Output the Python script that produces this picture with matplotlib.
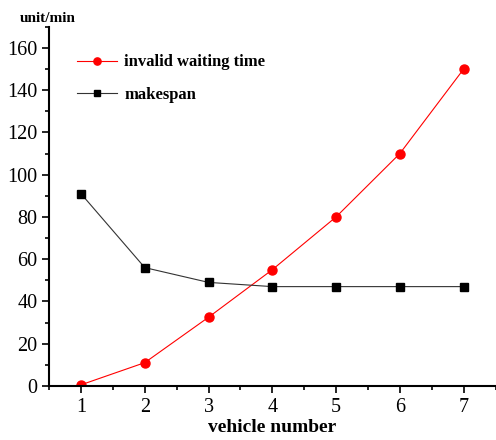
import matplotlib
matplotlib.use("Agg")
import matplotlib.pyplot as plt
from matplotlib.ticker import MultipleLocator

vehicles = [1, 2, 3, 4, 5, 6, 7]
waiting = [0.5, 11, 32.5, 55, 80, 110, 150]
makespan = [91, 56, 49, 47, 47, 47, 47]

plt.rcParams['font.family'] = ['Liberation Serif', 'DejaVu Serif']

fig = plt.figure(figsize=(4.96, 4.4), dpi=100)
ax = fig.add_axes([0.099, 0.123, 0.9, 0.816])

ax.plot(vehicles, waiting, color='red', lw=0.8, marker='o', ms=6.5,
        label='invalid waiting time')
ax.plot(vehicles, makespan, color='#333333', lw=0.8, marker='s', ms=6,
        mfc='black', mec='black', label='makespan')

ax.set_xlim(0.5, 7.5)
ax.set_ylim(0, 170)
ax.xaxis.set_major_locator(MultipleLocator(1))
ax.xaxis.set_minor_locator(MultipleLocator(0.5))
ax.yaxis.set_major_locator(MultipleLocator(20))
ax.yaxis.set_minor_locator(MultipleLocator(10))
for s in ['top', 'right']:
    ax.spines[s].set_visible(False)
for s in ['left', 'bottom']:
    ax.spines[s].set_linewidth(1.5)
ax.tick_params(which='major', direction='out', length=5, width=1.2, labelsize=14.5)
ax.tick_params(which='minor', direction='out', length=3, width=1.2)

ax.set_xlabel('vehicle number', fontsize=14, fontweight='bold', labelpad=2)
ax.text(-0.065, 1.005, 'unit/min', transform=ax.transAxes, fontsize=11,
        fontweight='bold', va='bottom', ha='left')

leg = ax.legend(loc='upper left', bbox_to_anchor=(0.03, 0.965), frameon=False,
                prop={'weight': 'bold', 'size': 12}, labelspacing=1.0,
                handlelength=2.4, handletextpad=0.4, markerscale=0.8)

fig.savefig('out.png', dpi=100)
